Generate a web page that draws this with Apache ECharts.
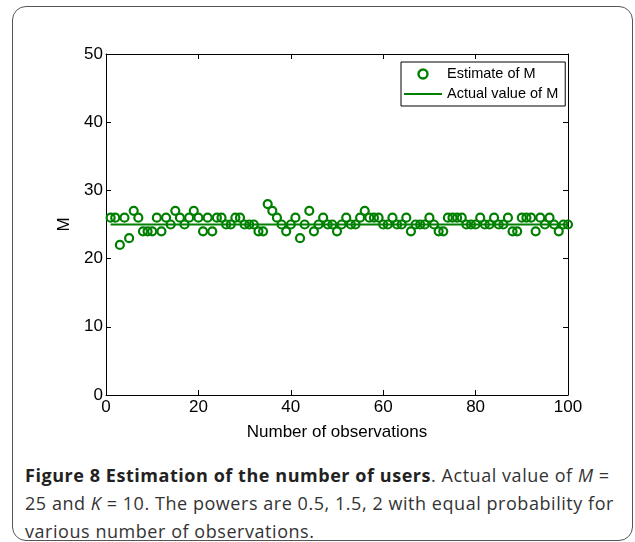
<!DOCTYPE html>
<html>
<head>
<meta charset="utf-8">
<script src="https://cdn.jsdelivr.net/npm/echarts@6/dist/echarts.min.js"></script>
<style>
  html, body { margin: 0; padding: 0; background: #fff; }
  #wrap { position: relative; width: 635px; height: 542px; overflow: hidden; }
  #card { position: absolute; left: 12px; top: 6px; width: 621px; height: 535px;
          border: 1.5px solid #555; border-radius: 14px; box-sizing: border-box; }
  #chart { position: absolute; left: 0; top: 0; width: 635px; height: 450px; }
  #caption { position: absolute; left: 25px; top: 461px; font-family: "Open Sans", sans-serif;
             font-size: 18px; letter-spacing: 0.55px; line-height: 28px; color: #333; white-space: nowrap; }
  #caption b { color: #222; }
</style>
</head>
<body>
<div id="wrap">
  <div id="card"></div>
  <div id="chart"></div>
  <div id="caption"><b>Figure 8 Estimation of the number of users</b>. Actual value of <i>M</i> =<br>25 and <i>K</i> = 10. The powers are 0.5, 1.5, 2 with equal probability for<br>various number of observations.</div>
</div>
<script>
// Observation index (x) and estimated M (y)
const observations = [
  1, 2, 3, 4, 5, 6, 7, 8, 9, 10, 11, 12, 13, 14, 15, 16, 17, 18, 19, 20,
  21, 22, 23, 24, 25, 26, 27, 28, 29, 30, 31, 32, 33, 34, 35, 36, 37, 38, 39, 40,
  41, 42, 43, 44, 45, 46, 47, 48, 49, 50, 51, 52, 53, 54, 55, 56, 57, 58, 59, 60,
  61, 62, 63, 64, 65, 66, 67, 68, 69, 70, 71, 72, 73, 74, 75, 76, 77, 78, 79, 80,
  81, 82, 83, 84, 85, 86, 87, 88, 89, 90, 91, 92, 93, 94, 95, 96, 97, 98, 99, 100
];
const estimateM = [
  26, 26, 22, 26, 23, 27, 26, 24, 24, 24,
  26, 24, 26, 25, 27, 26, 25, 26, 27, 26,
  24, 26, 24, 26, 26, 25, 25, 26, 26, 25,
  25, 25, 24, 24, 28, 27, 26, 25, 24, 25,
  26, 23, 25, 27, 24, 25, 26, 25, 25, 24,
  25, 26, 25, 25, 26, 27, 26, 26, 26, 25,
  25, 26, 25, 25, 26, 24, 25, 25, 25, 26,
  25, 24, 24, 26, 26, 26, 26, 25, 25, 25,
  26, 25, 25, 26, 25, 25, 26, 24, 24, 26,
  26, 26, 24, 26, 25, 26, 25, 24, 25, 25
];
const actualM = 25;
const actualRange = [1, 100];
const xTicks = [0, 20, 40, 60, 80, 100];
const yTicks = [0, 10, 20, 30, 40, 50];

const green = '#008000';
const font = '"Liberation Sans", Arial, sans-serif';

const chart = echarts.init(document.getElementById('chart'), null, { renderer: 'canvas' });
const axisCommon = {
  axisLine: { show: true, onZero: false, lineStyle: { color: '#000', width: 1 } },
  axisTick: { show: true, inside: true, length: 5, lineStyle: { color: '#000' } },
  splitLine: { show: false }
};
chart.setOption({
  animation: false,
  grid: { left: 106, top: 54, width: 462, height: 341 },
  legend: {
    orient: 'vertical',
    left: 401, top: 62,
    backgroundColor: '#fff',
    borderColor: '#000', borderWidth: 1,
    padding: [4, 7, 4, 3],
    itemGap: 4,
    itemWidth: 38, itemHeight: 9,
    symbolKeepAspect: true,
    textStyle: { fontFamily: font, fontSize: 14.5, lineHeight: 16, color: '#000' },
    data: [
      { name: 'Estimate of M', icon: 'circle',
        itemStyle: { color: 'rgba(0,0,0,0)', borderColor: green, borderWidth: 2.4 } },
      { name: 'Actual value of M', icon: 'path://M0,0 L38,0 L38,2 L0,2 Z',
        itemStyle: { color: green, borderWidth: 0 } }
    ]
  },
  xAxis: [
    Object.assign({
      type: 'value', min: 0, max: 100, interval: 20,
      name: 'Number of observations', nameLocation: 'middle', nameGap: 29,
      nameTextStyle: { fontFamily: font, fontSize: 17, color: '#000' },
      axisLabel: { fontFamily: font, fontSize: 17, color: '#000', margin: 4 }
    }, axisCommon),
    Object.assign({
      type: 'value', min: 0, max: 100, interval: 20, position: 'top',
      axisLabel: { show: false }
    }, axisCommon)
  ],
  yAxis: [
    Object.assign({
      type: 'value', min: 0, max: 50, interval: 10,
      name: 'M', nameLocation: 'middle', nameGap: 33, nameRotate: 90,
      nameTextStyle: { fontFamily: font, fontSize: 17, color: '#000' },
      axisLabel: { fontFamily: font, fontSize: 17, color: '#000', margin: 3 }
    }, axisCommon),
    Object.assign({
      type: 'value', min: 0, max: 50, interval: 10, position: 'right',
      axisLabel: { show: false }
    }, axisCommon)
  ],
  series: [
    {
      name: 'Estimate of M', type: 'scatter',
      symbol: 'circle', symbolSize: 8,
      itemStyle: { color: 'rgba(0,0,0,0)', borderColor: green, borderWidth: 2.2, opacity: 1 },
      data: observations.map((x, k) => [x, estimateM[k]]),
      z: 3
    },
    {
      name: 'Actual value of M', type: 'line',
      symbol: 'none', showSymbol: false,
      lineStyle: { color: green, width: 2 },
      itemStyle: { color: green },
      data: actualRange.map(x => [x, actualM]),
      z: 2
    }
  ]
});
</script>
</body>
</html>
